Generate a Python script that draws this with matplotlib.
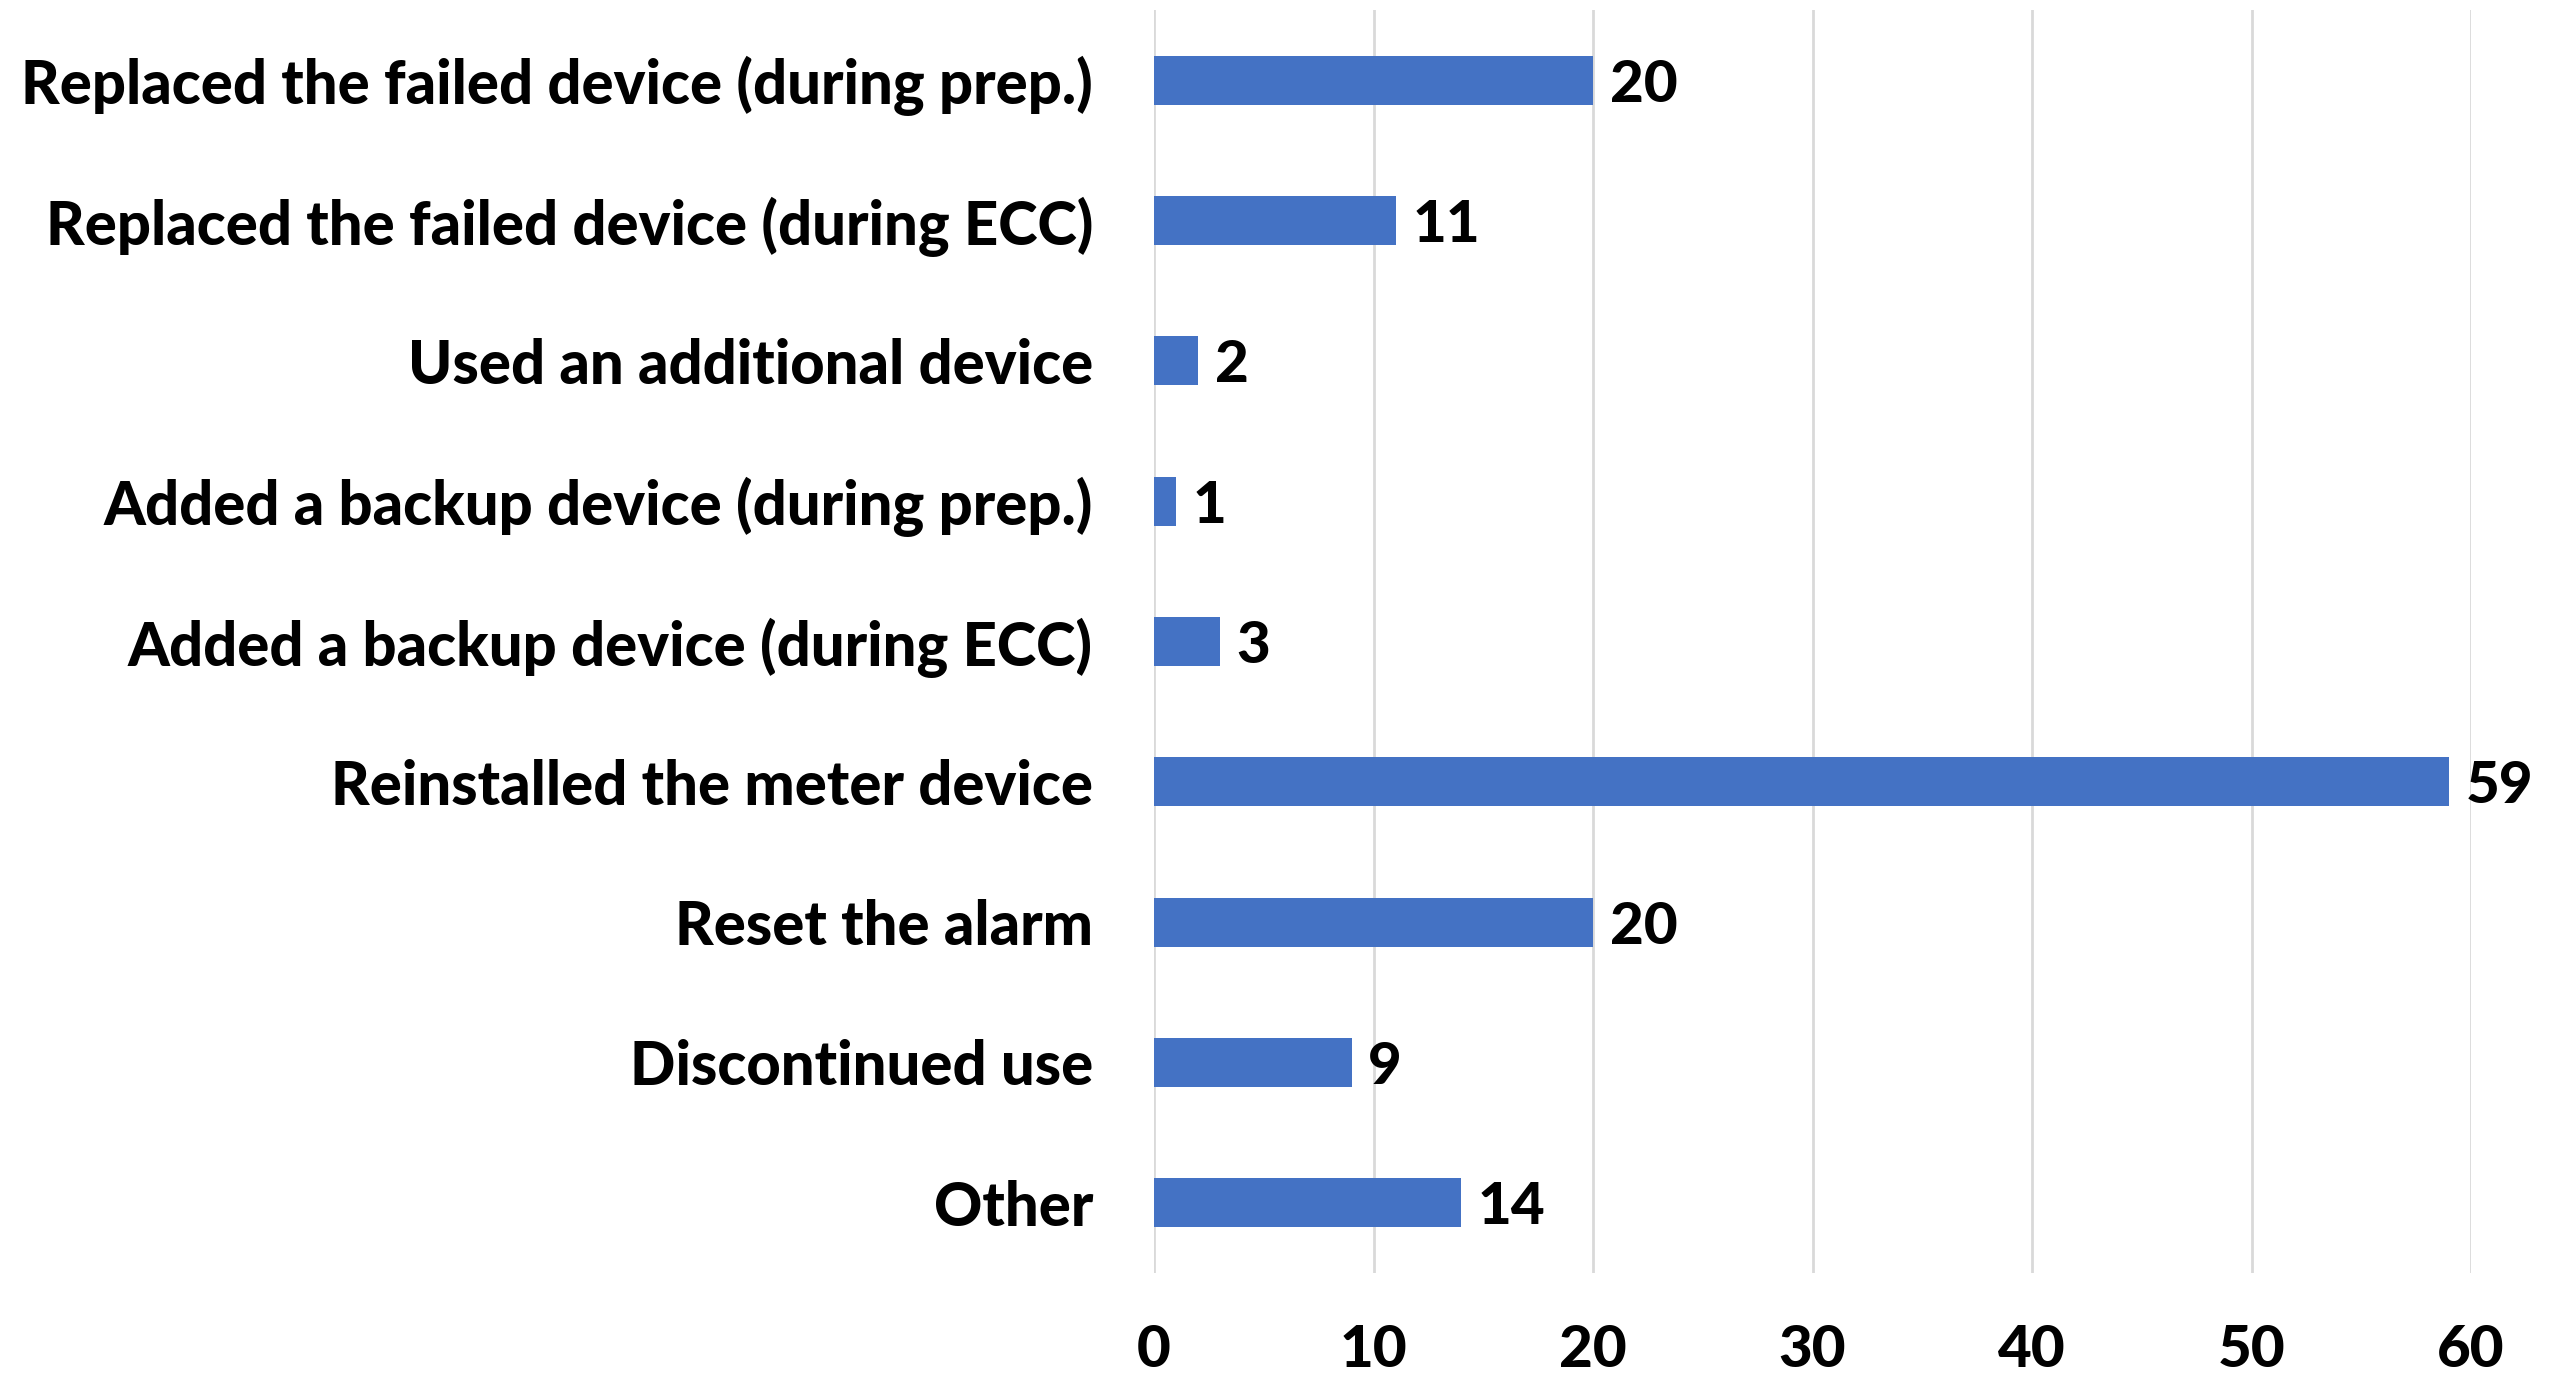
import matplotlib.pyplot as plt

# datos del grafico (de arriba hacia abajo)
categorias = [
    "Replaced the failed device (during prep.)",
    "Replaced the failed device (during ECC)",
    "Used an additional device",
    "Added a backup device (during prep.)",
    "Added a backup device (during ECC)",
    "Reinstalled the meter device",
    "Reset the alarm",
    "Discontinued use",
    "Other",
]
valores = [20, 11, 2, 1, 3, 59, 20, 9, 14]
ticks_x = [0, 10, 20, 30, 40, 50, 60]

plt.rcParams['font.family'] = ['Lato', 'DejaVu Sans']

fig = plt.figure(figsize=(25.63, 13.82), dpi=100)
ax = fig.add_axes([0.4503, 0.0789, 0.5138, 0.9139])

posiciones = list(range(len(categorias)))
ax.barh(posiciones, valores, height=0.35, color="#4472C4", zorder=3)

for pos, val in zip(posiciones, valores):
    ax.annotate(str(val), (val, pos), xytext=(12, 0), textcoords="offset points",
                va="center_baseline", ha="left", fontsize=42, fontweight="black")

ax.set_yticks(posiciones)
ax.set_yticklabels(categorias, fontsize=43, fontweight="black")
ax.set_ylim(len(categorias) - 0.5, -0.5)
ax.set_xlim(0, 60)
ax.set_xticks(ticks_x)
ax.set_xticklabels([str(t) for t in ticks_x], fontsize=42, fontweight="black")
ax.tick_params(axis="y", length=0, pad=44)
ax.tick_params(axis="x", length=0, pad=37)
ax.grid(axis="x", color="#d9d9d9", linewidth=2, zorder=0)
for s in ax.spines.values():
    s.set_visible(False)

fig.savefig("out.png", dpi=100)
plt.close()
